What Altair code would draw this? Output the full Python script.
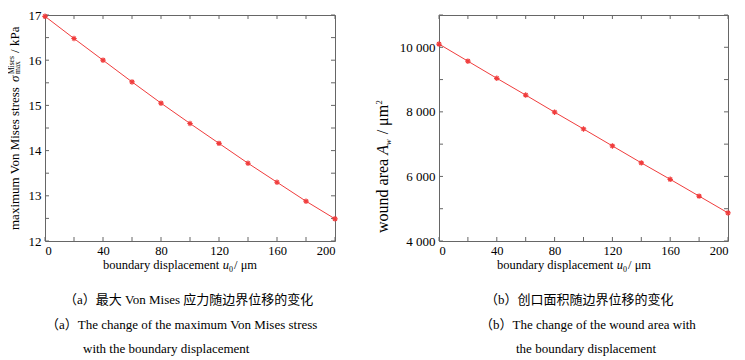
import altair as alt
import pandas as pd

# ---------------- data ----------------
u0 = [0, 20, 40, 60, 80, 100, 120, 140, 160, 180, 200]
stress = [16.97, 16.48, 16.00, 15.52, 15.05, 14.60, 14.16, 13.72, 13.30, 12.88, 12.49]
area = [10100, 9570, 9040, 8520, 7990, 7470, 6945, 6420, 5910, 5390, 4870]

x_ticks = [0, 20, 40, 60, 80, 100, 120, 140, 160, 180, 200]
x_labels = [0, 40, 80, 120, 160, 200]
stress_ticks = [12, 12.5, 13, 13.5, 14, 14.5, 15, 15.5, 16, 16.5, 17]
stress_labels = [12, 13, 14, 15, 16, 17]
area_ticks = [4000, 5000, 6000, 7000, 8000, 9000, 10000, 11000]
area_labels = [4000, 6000, 8000, 10000]

cap_a = ["（a）最大 Von Mises 应力随边界位移的变化",
         "（a）The change of the maximum Von Mises stress",
         "with the boundary displacement"]
cap_b = ["（b）创口面积随边界位移的变化",
         "（b）The change of the wound area with",
         "the boundary displacement"]

# ---------------- style ----------------
SERIF = "Liberation Serif"
CAP_FONT = "Liberation Serif, Noto Sans CJK SC"
RED = "#f03c3c"
FRAME = "#666666"
W1, W2, H = 290, 289, 226
ASTERISK = "M-1,0L1,0M0,-1L0,1M-0.7,-0.7L0.7,0.7M-0.7,0.7L0.7,-0.7"

ROMAN = {' ': 250, '(': 333, ')': 333, '/': 278, 'a': 444, 'b': 500, 'c': 444,
         'd': 500, 'e': 444, 'f': 333, 'g': 500, 'h': 500, 'i': 278, 'k': 500,
         'l': 278, 'm': 778, 'n': 500, 'o': 500, 'p': 500, 'r': 333, 's': 389,
         't': 278, 'u': 500, 'w': 722, 'x': 500, 'y': 500, 'A': 722, 'M': 889,
         'P': 556, 'V': 722, 'μ': 500, 'σ': 560}
ITALIC = {'u': 500, 'A': 611, 'w': 667, 'σ': 560}


def tw(s, size, italic=False):
    tab = ITALIC if italic else ROMAN
    return sum(tab.get(c, 500) for c in s) * size / 1000.0


def seg(text, x0, y0, angle, dx, dy, size, italic):
    return alt.Chart(pd.DataFrame({"t": [text]})).mark_text(
        align="left", baseline="alphabetic", angle=angle, dx=dx, dy=dy,
        fontSize=size, font=SERIF, fontStyle="italic" if italic else "normal",
        color="black"
    ).encode(text="t:N", x=alt.value(x0), y=alt.value(y0))


def rich(groups, x0, y0, angle):
    """groups: list of (gap_before, [(text, size, italic, shift), ...]) stacked at the same offset"""
    out = []
    off = 0.0
    for gap, g in groups:
        off += gap
        adv = 0.0
        for text, size, italic, shift in g:
            out.append(seg(text, x0, y0, angle, off, shift, size, italic))
            adv = max(adv, tw(text, size, italic))
        off += adv
    return out


def x_title():
    return rich([(0, [("boundary displacement", 12.5, False, 0)]),
                 (3.5, [("u", 12.5, True, 0)]),
                 (0, [("0", 8, False, 3)]),
                 (1, [("/ μm", 12.5, False, 0)])], 58, H + 28, 0)


def captions(lines, xs):
    out = []
    for text, xpos, ypos in zip(lines, xs, [H + 59, H + 84, H + 108]):
        out.append(alt.Chart(pd.DataFrame({"t": [text]})).mark_text(
            align="left", baseline="middle", fontSize=13, font=CAP_FONT, color="black"
        ).encode(text="t:N", x=alt.value(xpos), y=alt.value(ypos)))
    return out


def panel(yvals, ydomain, yticks, ylabels, W, ytitle, caps, capx, label_expr=None):
    df = pd.DataFrame({"x": u0, "y": yvals})
    xenc = alt.X("x:Q", scale=alt.Scale(domain=[0, 200], nice=False, zero=False),
                 axis=alt.Axis(values=x_labels, title=None, labelPadding=3, tickSize=0,
                               labelFontSize=12.5))
    yaxis_kw = dict(values=ylabels, title=None, labelPadding=4, tickSize=0)
    if label_expr:
        yaxis_kw["labelExpr"] = label_expr
    yenc = alt.Y("y:Q", scale=alt.Scale(domain=ydomain, nice=False, zero=False),
                 axis=alt.Axis(**yaxis_kw))
    line = alt.Chart(df).mark_line(color=RED, strokeWidth=1).encode(x=xenc, y=yenc)
    pts = alt.Chart(df).mark_point(shape=ASTERISK, size=30, color=RED, strokeWidth=1.2,
                                   filled=False, opacity=1).encode(x=xenc, y=yenc)
    xt = pd.DataFrame({"x": x_ticks})
    yt = pd.DataFrame({"y": yticks})
    bottom = alt.Chart(xt).mark_rule(color=FRAME).encode(x=xenc, y=alt.value(H), y2=alt.value(H - 4))
    top = alt.Chart(xt).mark_rule(color=FRAME).encode(x=xenc, y=alt.value(0), y2=alt.value(4))
    left = alt.Chart(yt).mark_rule(color=FRAME).encode(y=yenc, x=alt.value(0), x2=alt.value(4))
    right = alt.Chart(yt).mark_rule(color=FRAME).encode(y=yenc, x=alt.value(W), x2=alt.value(W - 4))
    layers = [bottom, top, left, right, line, pts] + ytitle + x_title() + captions(caps, capx)
    return alt.layer(*layers).properties(width=W, height=H)


ytitle_a = rich([(0, [("maximum Von Mises stress", 13, False, 0)]),
                 (3.3, [("σ", 13, True, 0)]),
                 (0.5, [("Mises", 7.5, False, -5.5), ("max", 7.5, False, 1)]),
                 (3.3, [("/ kPa", 13, False, 0)])], -26, H - 11, 270)

ytitle_b = rich([(0, [("wound area", 16, False, 0)]),
                 (4, [("A", 16, True, 0)]),
                 (0, [("w", 8.5, True, 3)]),
                 (5, [("/ μm", 16, False, 0)]),
                 (1, [("2", 8.5, False, -6)])], -51, H - 8, 270)

p1 = panel(stress, [12, 17], stress_ticks, stress_labels, W1, ytitle_a, cap_a, [19, 1, 38])
p2 = panel(area, [4000, 11000], area_ticks, area_labels, W2, ytitle_b, cap_b, [46, 41, 77],
           label_expr="replace(format(datum.value, ','), ',', ' ')")

chart = alt.hconcat(p1, p2, spacing=104, bounds="flush").properties(
    padding={"left": -2, "top": 0, "right": 0, "bottom": 0}
).configure_view(
    stroke=FRAME, strokeWidth=1
).configure_axis(
    labelFont=SERIF, labelFontSize=13, labelColor="black", domain=False, grid=False, ticks=False
)

chart.save("out.html", embed_options={"renderer": "svg", "actions": False})
